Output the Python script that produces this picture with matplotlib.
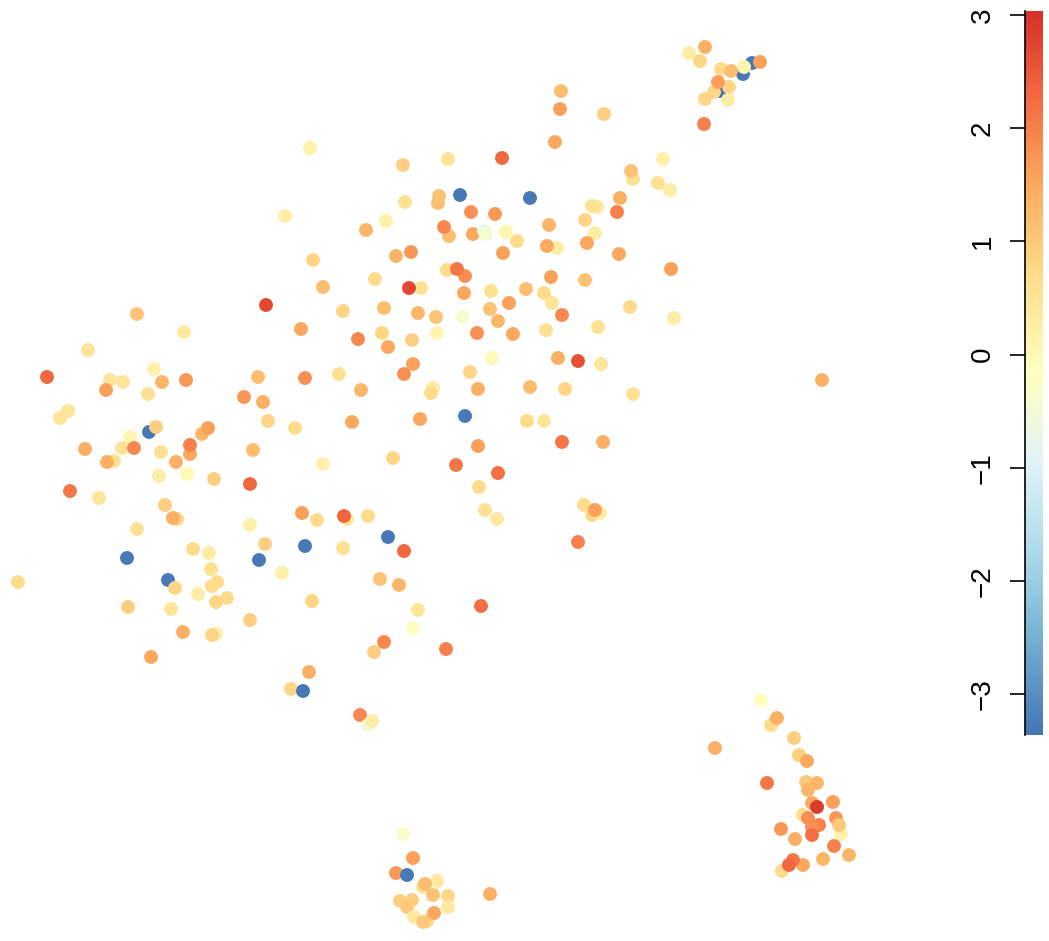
import matplotlib
matplotlib.use("Agg")
import matplotlib.pyplot as plt
from matplotlib.colors import LinearSegmentedColormap

plt.rcParams['font.family'] = ['Liberation Sans', 'DejaVu Sans']

# embedding coordinates (x right, y down) and the score per cell
left_x = [137, 184, 88, 47, 110, 123, 106, 154, 162, 186, 148, 68, 60, 149, 156, 130, 122, 134, 85, 114, 107,
          161, 176, 190, 190, 202, 208, 159, 187, 214, 70, 99, 165, 177, 173, 137, 127, 193, 209, 211, 18, 168,
          175, 212, 217, 198, 227, 216, 128, 171, 183, 216, 212, 151]
left_y = [314, 332, 350, 377, 380, 382, 390, 369, 382, 380, 394, 411, 418, 432, 427, 437, 448, 448, 449, 461, 462,
          452, 462, 454, 445, 434, 428, 476, 474, 479, 491, 498, 505, 519, 518, 529, 558, 549, 553, 569, 582, 580,
          588, 586, 582, 594, 598, 602, 607, 609, 632, 634, 635, 657]
left_v = [1.1, 0.4, 0.5, 2.3, 0.5, 0.5, 1.6, 0.2, 1.3, 1.7, 0.6, 0.5, 0.5, -3.3, 0.9, 0.1, 0.6, 1.9, 1.4, 0.6, 1.4,
          0.6, 1.4, 1.5, 2.0, 1.3, 1.6, 0.3, 0.0, 0.9, 2.1, 0.5, 0.9, 0.8, 1.4, 0.6, -3.3, 0.7, 0.3, 0.6, 0.7, -3.3,
          0.8, 0.7, 0.7, 0.3, 0.7, 0.8, 0.9, 0.5, 1.4, 0.3, 0.8, 1.5]

mid_x = [310, 403, 448, 502, 460, 438, 439, 405, 471, 495, 285, 386, 366, 449, 444, 473, 484, 486, 506, 411, 396,
         503, 313, 375, 323, 421, 409, 447, 465, 457, 464, 491, 509, 490, 498, 463, 266, 343, 384, 418, 436, 301,
         358, 382, 412, 437, 477, 513, 388, 492, 413, 404, 470, 258, 305, 339, 361, 433, 431, 478, 244, 263, 268,
         295, 352, 420, 465, 253, 323, 393, 478, 456, 498, 250, 479, 485, 497, 302, 317, 347, 344, 368, 250]
mid_y = [148, 165, 159, 158, 195, 203, 196, 202, 212, 214, 216, 221, 230, 236, 227, 234, 231, 234, 232, 252, 256,
         253, 260, 279, 287, 288, 288, 270, 276, 269, 293, 291, 303, 309, 321, 317, 305, 311, 308, 313, 317, 329,
         339, 333, 340, 333, 333, 334, 347, 358, 364, 374, 372, 377, 378, 374, 390, 388, 393, 389, 397, 402, 421,
         428, 422, 419, 416, 450, 464, 458, 446, 465, 473, 484, 487, 510, 519, 513, 520, 519, 516, 516, 525]
mid_v = [0.2, 0.9, 0.5, 2.3, -3.3, 1.2, 1.1, 0.6, 1.8, 1.7, 0.3, 0.2, 1.3, 1.2, 1.9, 1.5, -0.7, -0.4, 0.1, 1.7, 1.3,
         1.6, 0.8, 0.7, 1.2, 0.6, 2.7, 0.7, 1.8, 2.1, 1.5, 0.6, 1.6, 1.1, 1.3, -0.4, 2.7, 0.8, 1.2, 1.3, 1.1, 1.5,
         1.9, 0.8, 0.9, 0.1, 1.8, 1.5, 1.5, 0.0, 1.6, 1.8, 0.8, 1.2, 1.8, 0.6, 1.3, 0.3, 0.7, 1.4, 1.7, 1.4, 0.8,
         0.7, 1.5, 1.5, -3.3, 1.2, 0.2, 0.8, 1.6, 2.1, 2.2, 2.3, 0.7, 0.6, 0.4, 1.6, 0.7, 0.5, 2.3, 0.7, 0.2]

low_x = [388, 404, 265, 305, 343, 259, 282, 380, 399, 312, 250, 481, 418, 413, 384, 374, 446, 309, 291, 303, 360,
         368, 372]
low_y = [537, 551, 544, 546, 548, 560, 573, 579, 585, 601, 620, 606, 610, 628, 642, 652, 649, 672, 689, 691, 715,
         725, 721]
low_v = [-3.3, 2.3, 0.9, -3.3, 0.6, -3.3, 0.2, 1.1, 1.3, 0.8, 0.9, 2.2, 0.5, -0.2, 1.9, 0.9, 2.0, 1.4, 0.8, -3.3,
         1.9, -0.5, 0.3]

right_x = [561, 560, 604, 555, 530, 663, 633, 631, 658, 670, 620, 617, 597, 592, 585, 595, 549, 517, 557, 547, 587,
           619, 671, 551, 585, 526, 544, 552, 562, 546, 598, 630, 674, 558, 578, 601, 530, 565, 633, 527, 544, 562,
           603, 584, 592, 600, 595, 578]
right_y = [91, 109, 114, 142, 198, 159, 179, 171, 183, 190, 198, 212, 207, 206, 220, 233, 225, 241, 248, 246, 243,
           254, 269, 277, 280, 289, 293, 303, 315, 330, 327, 307, 318, 358, 361, 364, 387, 389, 394, 421, 421, 442,
           442, 505, 515, 513, 510, 542]
right_v = [1.2, 1.6, 0.9, 1.5, -3.3, 0.2, 0.6, 1.1, 0.6, 0.3, 1.4, 2.0, 0.4, 0.6, 0.8, 0.3, 1.3, 0.7, 0.3, 1.5, 1.5,
           1.5, 1.6, 1.6, 1.1, 1.2, 0.7, 0.5, 1.9, 0.6, 0.6, 0.7, 0.3, 1.4, 2.6, 0.5, 1.2, 0.8, 0.6, 0.7, 0.5, 2.1,
           1.4, 0.7, 0.8, 0.3, 1.6, 2.0]

top_x = [689, 705, 700, 721, 752, 743, 744, 731, 760, 720, 714, 729, 718, 705, 728, 704, 822]
top_y = [53, 47, 61, 69, 63, 74, 67, 71, 62, 91, 92, 87, 82, 99, 100, 124, 380]
top_v = [0.3, 1.4, 0.8, 0.7, -3.3, -3.3, 0.1, 1.2, 1.6, -3.3, 0.8, 0.8, 1.6, 0.8, 0.3, 2.0, 1.4]

br_x = [761, 771, 777, 794, 715, 799, 807, 767, 806, 817, 808, 812, 833, 817, 803, 808, 836, 841, 839, 819, 812,
        812, 781, 795, 834, 849, 823, 782, 803, 793, 789]
br_y = [700, 725, 718, 738, 748, 755, 761, 783, 782, 783, 790, 803, 802, 807, 815, 818, 818, 834, 825, 825, 827,
        835, 829, 839, 846, 855, 859, 871, 865, 860, 865]
br_v = [-0.1, 0.7, 1.4, 0.9, 1.4, 0.9, 1.5, 2.1, 1.0, 1.3, 1.3, 1.5, 1.6, 2.9, 0.7, 1.8, 1.7, 0.2, 1.0, 2.0, 1.8,
        2.2, 1.7, 1.4, 2.0, 1.3, 1.3, 0.7, 1.5, 2.1, 2.3]

bm_x = [403, 413, 396, 407, 437, 423, 425, 400, 412, 407, 433, 448, 448, 414, 427, 423, 434, 490]
bm_y = [834, 858, 873, 875, 881, 887, 884, 901, 900, 907, 895, 896, 907, 917, 921, 922, 913, 894]
bm_v = [-0.3, 1.6, 1.7, -3.3, 0.4, 0.6, 1.2, 0.9, 0.9, 1.0, 1.1, 0.8, 0.4, 0.4, 0.8, 1.0, 1.5, 1.4]

score_min = -3.36
score_max = 3.035
palette = ['#4575B4', '#74ADD1', '#ABD9E9', '#E0F3F8', '#FFFFBF', '#FEE090', '#FDAE61', '#F46D43', '#D73027']

xs = left_x + mid_x + low_x + right_x + top_x + br_x + bm_x
ys = left_y + mid_y + low_y + right_y + top_y + br_y + bm_y
vs = left_v + mid_v + low_v + right_v + top_v + br_v + bm_v

W, H = 1049, 941
cmap = LinearSegmentedColormap.from_list('rdylbu', palette, N=256)

fig = plt.figure(figsize=(W / 100, H / 100), dpi=100)
ax = fig.add_axes([0, 0, 900 / W, 1])
sc = ax.scatter(xs, ys, c=vs, cmap=cmap, vmin=score_min, vmax=score_max, s=100, linewidths=0)
ax.set_xlim(0, 900)
ax.set_ylim(H, 0)
ax.axis('off')

cax = fig.add_axes([1025 / W, (H - 735) / H, 18 / W, (735 - 11) / H])
cb = fig.colorbar(sc, cax=cax)
cb.outline.set_visible(False)
cax.yaxis.set_ticks_position('left')
cax.spines['left'].set_visible(True)
cax.spines['left'].set_linewidth(1.2)
cb.set_ticks([-3, -2, -1, 0, 1, 2, 3])
cb.set_ticklabels(['\u22123', '\u22122', '\u22121', '0', '1', '2', '3'])
cax.tick_params(axis='y', direction='out', length=11, width=1.2, pad=10, labelsize=20)
for lab in cax.get_yticklabels():
    lab.set_rotation(90)
    lab.set_va('center')

fig.savefig('out.png', dpi=100)
